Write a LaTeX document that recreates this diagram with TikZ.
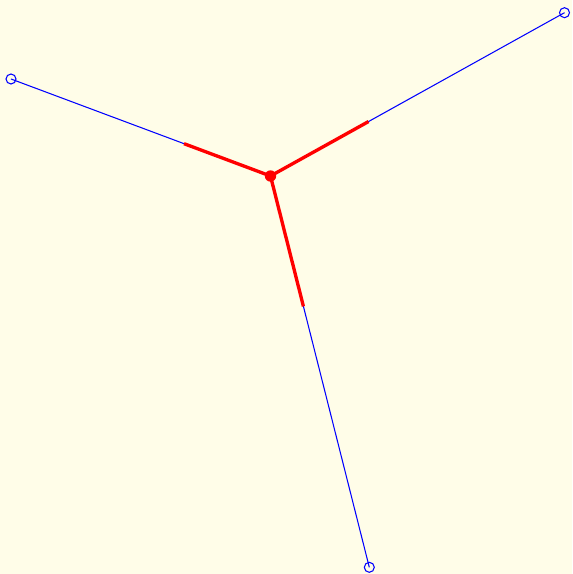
\documentclass[tikz,border=0pt]{standalone}
\usetikzlibrary{calc}
\definecolor{cream}{RGB}{255,253,232}
\tikzset{
  pt/.style={draw=blue, line width=0.6pt},
  ray/.style={blue, line width=0.6pt},
  near/.style={red, line width=1.9pt}
}
\begin{document}
\begin{tikzpicture}[x=0.02cm, y=-0.02cm]
\fill[cream] (0,0) rectangle (572,574);
\useasboundingbox (0,0) rectangle (572,574);
\coordinate (a) at (11,79);
\coordinate (b) at (564.5,12.7);
\coordinate (c) at (369.3,567.3);
\coordinate (f) at (270.5,176);
\draw[ray] (f) -- (a); \draw[ray] (f) -- (b); \draw[ray] (f) -- (c);
\draw[near] (f) -- ($(f)!1/3!(a)$);
\draw[near] (f) -- ($(f)!1/3!(b)$);
\draw[near] (f) -- ($(f)!1/3!(c)$);
\draw[pt] (a) circle (5); \draw[pt] (b) circle (5); \draw[pt] (c) circle (5);
\fill[red] (f) circle (5.7);
\end{tikzpicture}
\end{document}
